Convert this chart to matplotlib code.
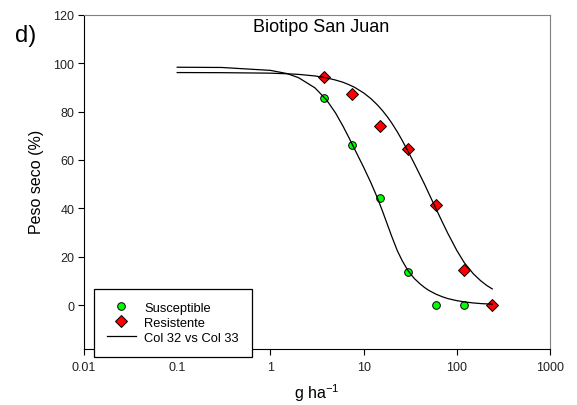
import matplotlib
matplotlib.use("Agg")
import matplotlib.pyplot as plt

plt.rcParams['font.family'] = ['Liberation Sans', 'DejaVu Sans']

# dosis (g ha-1)
dosis = [3.75, 7.5, 15, 30, 60, 120, 240]
susceptible = [85.6, 66.2, 44.2, 13.7, 0.2, 0.2, 0.2]
resistente = [94.3, 87.2, 74.0, 64.6, 41.2, 14.4, 0.0]

# curvas ajustadas
curva_x = [0.1, 0.3, 1, 1.5, 2, 3, 4, 5, 6, 7, 8, 10, 12, 14, 16, 18, 20,
           23, 26, 30, 35, 40, 45, 50, 60, 70, 80, 100, 120, 150, 180, 210, 240]
curva_s = [98.3, 98.2, 97.0, 95.7, 94.0, 89.8, 84.8, 79.4, 74.0, 69.0, 64.5,
           57.0, 50.5, 44.5, 38.7, 33.3, 28.5, 22.5, 18.3, 14.2, 11.0, 8.9,
           7.3, 6.1, 4.5, 3.45, 2.7, 1.85, 1.35, 0.9, 0.65, 0.5, 0.4]
curva_r = [96.1, 96.05, 95.85, 95.6, 95.35, 94.7, 93.9, 93.0, 92.1, 91.05,
           90.0, 87.7, 85.3, 82.8, 80.3, 77.8, 75.3, 71.6, 68.0, 63.5, 58.5,
           54.0, 50.0, 46.2, 39.7, 34.3, 29.7, 22.6, 17.6, 13.0, 10.1, 8.1,
           6.7]

fig = plt.figure(figsize=(5.77, 4.06), dpi=100)
ax = fig.add_axes([0.1456, 0.1387, 0.8076, 0.8226])

ax.plot(dosis, susceptible, 'o', color='#00ff00', markeredgecolor='black',
        markeredgewidth=0.7, markersize=5.5, label='Susceptible', zorder=3)
ax.plot(dosis, resistente, 'D', color='#ff0000', markeredgecolor='black',
        markeredgewidth=0.7, markersize=6, label='Resistente', zorder=3)
ax.plot(curva_x, curva_s, '-', color='black', lw=0.9,
        label='Col 32 vs Col 33', zorder=4)
ax.plot(curva_x, curva_r, '-', color='black', lw=0.9, zorder=4)

ax.set_xscale('log')
ax.set_xlim(0.01, 1000)
ax.set_ylim(-18, 120)
ax.set_xticks([0.01, 0.1, 1, 10, 100, 1000])
ax.set_xticklabels(['0.01', '0.1', '1', '10', '100', '1000'])
ax.xaxis.set_minor_locator(matplotlib.ticker.NullLocator())
ax.set_yticks([0, 20, 40, 60, 80, 100, 120])
ax.tick_params(direction='out', length=4, width=0.8, labelsize=9,
               colors='black', labelcolor='#222222')
ax.tick_params(axis='y', pad=3)
ax.tick_params(axis='x', pad=5)

for s in ['top', 'right']:
    ax.spines[s].set_color('#808080')
for s in ['left', 'bottom']:
    ax.spines[s].set_color('black')

fig.text(37 / 577, 1 - 182 / 406, 'Peso seco (%)', fontsize=11.5,
         rotation=90, ha='center', va='center')
fig.text(317 / 577, 1 - 393 / 406, 'g ha$^{\\mathregular{-1}}$',
         fontsize=11.5, ha='center', va='center')

fig.text(321 / 577, 1 - 27.5 / 406, 'Biotipo San Juan', fontsize=13,
         ha='center', va='center')
fig.text(15 / 577, 1 - 36 / 406, 'd)', fontsize=17, ha='left', va='center')

leg = ax.legend(loc='upper left', bbox_to_anchor=(94 / 577, 1 - 290 / 406),
                bbox_transform=fig.transFigure, fontsize=9.3, frameon=True,
                fancybox=False, edgecolor='black', framealpha=1,
                borderpad=1.0, labelspacing=0.22, handlelength=2.25,
                handletextpad=0.62, borderaxespad=0)
leg.get_frame().set_linewidth(0.9)

fig.savefig('out.png', dpi=100)
